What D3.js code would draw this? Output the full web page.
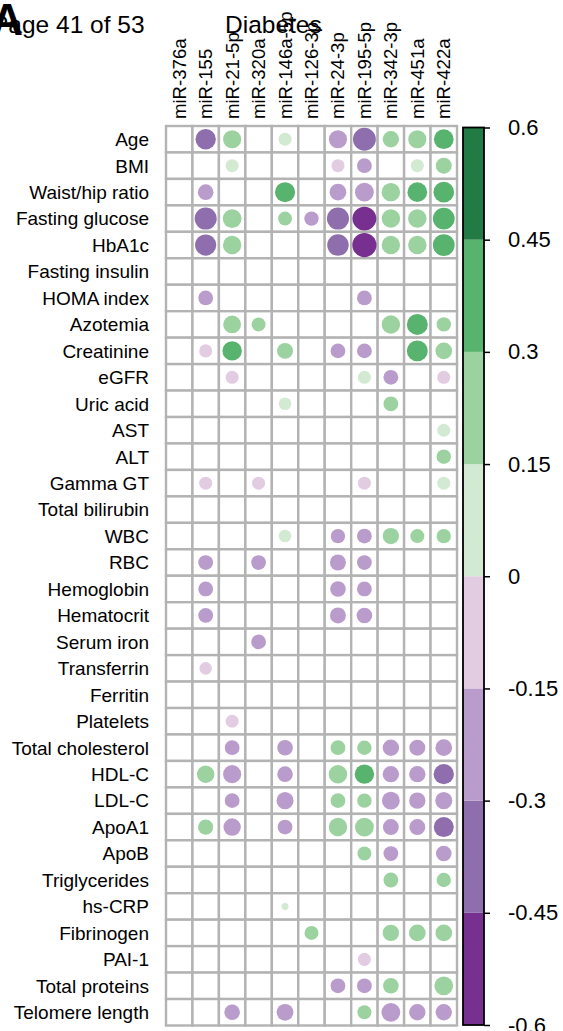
<!DOCTYPE html>
<html>
<head>
<meta charset="utf-8">
<script src="https://cdn.jsdelivr.net/npm/d3@7/dist/d3.min.js"></script>
<style>
  html, body { margin: 0; padding: 0; background: #fff; }
  svg { display: block; }
  text { font-family: "Liberation Sans", Arial, sans-serif; fill: #000; }
</style>
</head>
<body>
<svg id="chart" width="563" height="1031"></svg>
<script>
// microRNAs (columns) and clinical variables (rows)
const mirnas = ["miR-376a", "miR-155", "miR-21-5p", "miR-320a", "miR-146a-5p", "miR-126-3p",
                "miR-24-3p", "miR-195-5p", "miR-342-3p", "miR-451a", "miR-422a"];

const variables = ["Age", "BMI", "Waist/hip ratio", "Fasting glucose", "HbA1c", "Fasting insulin",
  "HOMA index", "Azotemia", "Creatinine", "eGFR", "Uric acid", "AST", "ALT", "Gamma GT",
  "Total bilirubin", "WBC", "RBC", "Hemoglobin", "Hematocrit", "Serum iron", "Transferrin",
  "Ferritin", "Platelets", "Total cholesterol", "HDL-C", "LDL-C", "ApoA1", "ApoB",
  "Triglycerides", "hs-CRP", "Fibrinogen", "PAI-1", "Total proteins", "Telomere length"];

// correlation coefficients, one row per variable (null = not significant)
const _ = null;
const correlations = [
  [_, -0.34, 0.27, _, 0.14, _, -0.27, -0.43, 0.22, 0.27, 0.32],   // Age
  [_, _, 0.14, _, _, _, -0.14, -0.18, _, 0.14, 0.21],              // BMI
  [_, -0.20, _, _, 0.33, _, -0.23, -0.29, 0.28, 0.32, 0.35],       // Waist/hip ratio
  [_, -0.40, 0.29, _, 0.16, -0.17, -0.40, -0.47, 0.28, 0.28, 0.39],// Fasting glucose
  [_, -0.37, 0.28, _, _, _, -0.38, -0.48, 0.28, 0.28, 0.39],       // HbA1c
  [_, _, _, _, _, _, _, _, _, _, _],                               // Fasting insulin
  [_, -0.18, _, _, _, _, _, -0.18, _, _, _],                       // HOMA index
  [_, _, 0.26, 0.16, _, _, _, _, 0.28, 0.36, 0.17],                // Azotemia
  [_, -0.14, 0.31, _, 0.21, _, -0.18, -0.18, _, 0.36, 0.23],       // Creatinine
  [_, _, -0.14, _, _, _, _, 0.14, -0.18, _, -0.14],                // eGFR
  [_, _, _, _, 0.13, _, _, _, 0.18, _, _],                         // Uric acid
  [_, _, _, _, _, _, _, _, _, _, 0.14],                            // AST
  [_, _, _, _, _, _, _, _, _, _, 0.17],                            // ALT
  [_, -0.14, _, -0.14, _, _, _, -0.14, _, _, 0.14],                // Gamma GT
  [_, _, _, _, _, _, _, _, _, _, _],                               // Total bilirubin
  [_, _, _, _, 0.13, _, -0.17, -0.18, 0.22, 0.16, 0.17],           // WBC
  [_, -0.18, _, -0.18, _, _, -0.21, -0.18, _, _, _],               // RBC
  [_, -0.18, _, _, _, _, -0.20, -0.18, _, _, _],                   // Hemoglobin
  [_, -0.18, _, _, _, _, -0.21, -0.20, _, _, _],                   // Hematocrit
  [_, _, _, -0.18, _, _, _, _, _, _, _],                           // Serum iron
  [_, -0.13, _, _, _, _, _, _, _, _, _],                           // Transferrin
  [_, _, _, _, _, _, _, _, _, _, _],                               // Ferritin
  [_, _, -0.14, _, _, _, _, _, _, _, _],                           // Platelets
  [_, _, -0.18, _, -0.20, _, 0.18, 0.17, -0.22, -0.21, -0.23],     // Total cholesterol
  [_, 0.25, -0.27, _, -0.20, _, 0.28, 0.31, -0.22, -0.22, -0.34],  // HDL-C
  [_, _, -0.18, _, -0.24, _, 0.18, 0.17, -0.26, -0.22, -0.24],     // LDL-C
  [_, 0.19, -0.25, _, -0.18, _, 0.28, 0.29, -0.21, -0.21, -0.33],  // ApoA1
  [_, _, _, _, _, _, _, 0.16, -0.18, _, -0.20],                    // ApoB
  [_, _, _, _, _, _, _, _, 0.18, _, 0.17],                         // Triglycerides
  [_, _, _, _, 0.04, _, _, _, _, _, _],                            // hs-CRP
  [_, _, _, _, _, 0.16, _, _, 0.22, 0.23, 0.23],                   // Fibrinogen
  [_, _, _, _, _, _, _, -0.14, _, _, _],                           // PAI-1
  [_, _, _, _, _, _, -0.18, -0.18, 0.20, _, 0.29],                 // Total proteins
  [_, _, -0.20, _, -0.23, _, _, 0.16, -0.29, -0.22, -0.22]         // Telomere length
];

// colour legend
const legendBreaks = [-0.45, -0.3, -0.15, 0, 0.15, 0.3, 0.45];
const legendColors = ["#77308f", "#8e6eac", "#b99ccb", "#e2cce2",
                      "#d2e9d2", "#9bd29f", "#57b36d", "#227a44"];
const legendTicks = [-0.6, -0.45, -0.3, -0.15, 0, 0.15, 0.3, 0.45, 0.6];
const legendTickLabels = ["-0.6", "-0.45", "-0.3", "-0.15", "0", "0.15", "0.3", "0.45", "0.6"];

const svg = d3.select("#chart");

// page header + panel letter + title
svg.append("text").attr("x", -8).attr("y", 33)
  .style("font-size", "24.5px").text("Page 41 of 53");
svg.append("text").attr("x", 23).attr("y", 35).attr("text-anchor", "end")
  .style("font-size", "44px").style("font-weight", "bold").text("A");
svg.append("text").attr("x", 225).attr("y", 33)
  .style("font-size", "24.5px").text("Diabetes");

// scales
const x = d3.scaleBand().domain(mirnas).range([166, 457]);
const y = d3.scaleBand().domain(variables).range([126, 1025.5]);
const color = d3.scaleThreshold().domain(legendBreaks).range(legendColors);
const radius = d3.scaleSqrt().domain([0, 0.6]).range([0, 13.5]);

// cell grid
const cells = [];
variables.forEach((v, i) => mirnas.forEach((m, j) => cells.push({ v, m, r: correlations[i][j] })));

const grid = svg.append("g");
grid.selectAll("rect").data(cells).join("rect")
  .attr("x", d => x(d.m)).attr("y", d => y(d.v))
  .attr("width", x.bandwidth()).attr("height", y.bandwidth())
  .attr("fill", "#fff").attr("stroke", "#b3b3b3").attr("stroke-width", 2.4);

// correlation circles
svg.append("g").selectAll("circle").data(cells.filter(d => d.r !== null)).join("circle")
  .attr("cx", d => x(d.m) + x.bandwidth() / 2)
  .attr("cy", d => y(d.v) + y.bandwidth() / 2)
  .attr("r", d => radius(Math.abs(d.r)))
  .attr("fill", d => color(d.r));

// row labels
svg.append("g").selectAll("text").data(variables).join("text")
  .attr("x", 149).attr("y", d => y(d) + y.bandwidth() / 2)
  .attr("dy", "0.36em").attr("text-anchor", "end")
  .style("font-size", "19px").text(d => d);

// column labels (vertical)
svg.append("g").selectAll("text").data(mirnas).join("text")
  .attr("transform", d => `translate(${x(d) + x.bandwidth() / 2 + 6.5},119) rotate(-90)`)
  .style("font-size", "18.6px").text(d => d);

// colour bar
const cb = d3.scaleLinear().domain([-0.6, 0.6]).range([1025, 127.5]);
const bins = legendColors.map((c, i) => ({
  lo: i === 0 ? -0.6 : legendBreaks[i - 1],
  hi: i === legendColors.length - 1 ? 0.6 : legendBreaks[i],
  c
}));
const bar = svg.append("g");
bar.selectAll("rect").data(bins).join("rect")
  .attr("x", 463).attr("width", 21)
  .attr("y", d => cb(d.hi)).attr("height", d => cb(d.lo) - cb(d.hi))
  .attr("fill", d => d.c);
bar.append("rect").attr("x", 463).attr("y", cb(0.6)).attr("width", 21)
  .attr("height", cb(-0.6) - cb(0.6))
  .attr("fill", "none").attr("stroke", "#000").attr("stroke-width", 1.8);

const axis = d3.axisRight(cb).tickValues(legendTicks).tickSize(6).tickPadding(18)
  .tickFormat((d, i) => legendTickLabels[i]);
const ag = svg.append("g").attr("transform", "translate(484,0)").call(axis);
ag.select(".domain").remove();
ag.selectAll(".tick line").attr("stroke", "#000").attr("stroke-width", 1.5);
ag.selectAll(".tick text").style("font-size", "22px")
  .style("font-family", '"Liberation Sans", Arial, sans-serif').attr("fill", "#000");
</script>
</body>
</html>
